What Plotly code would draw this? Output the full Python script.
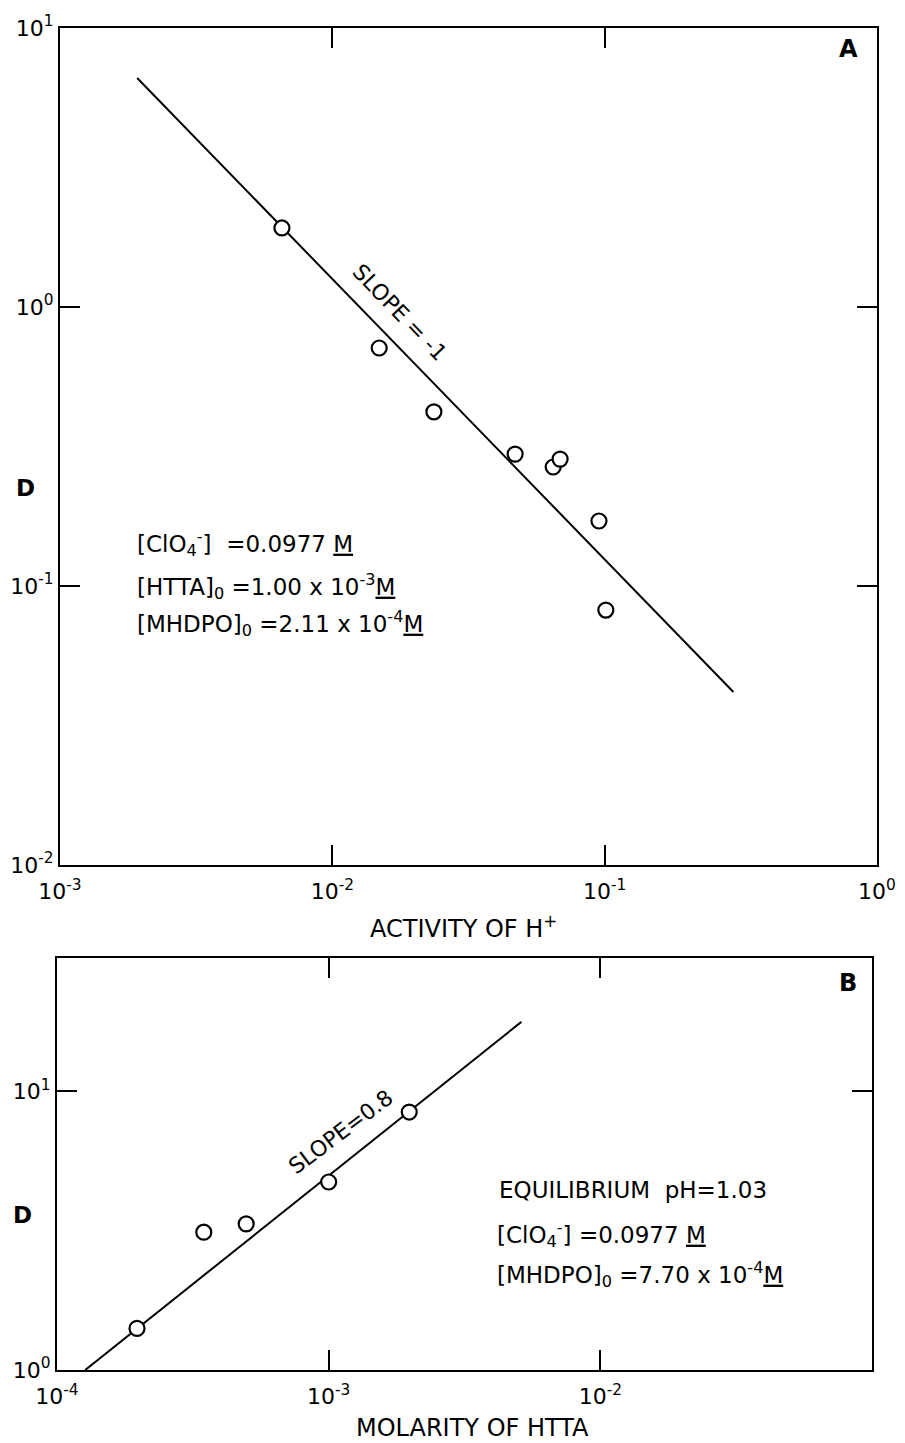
import plotly.graph_objects as go

# ---------------- data ----------------
# Panel A: D vs activity of H+
a_h = [0.00653, 0.01486, 0.0236, 0.0469, 0.0647, 0.0686, 0.0953, 0.101]
a_d = [1.92, 0.713, 0.421, 0.297, 0.267, 0.285, 0.171, 0.082]
a_fit_x = [0.00192, 0.297]
a_fit_d = [6.62, 0.0417]
a_ticks = [1e-3, 1e-2, 1e-1, 1e0]
a_ticktext_x = ["10<sup>-3</sup>", "10<sup>-2</sup>", "10<sup>-1</sup>", "10<sup>0</sup>"]
a_yticks = [1e-2, 1e-1, 1e0, 1e1]
a_ticktext_y = ["10<sup>-2</sup>", "10<sup>-1</sup>", "10<sup>0</sup>", "10<sup>1</sup>"]

# Panel B: D vs molarity of HTTA
b_htta = [1.97e-4, 3.47e-4, 4.97e-4, 1.0e-3, 1.98e-3]
b_d = [1.41, 3.12, 3.34, 4.72, 8.41]
b_fit_x = [1.27e-4, 5.12e-3]
b_fit_d = [1.0, 17.7]
b_xticks = [1e-4, 1e-3, 1e-2]
b_ticktext_x = ["10<sup>-4</sup>", "10<sup>-3</sup>", "10<sup>-2</sup>"]
b_yticks = [1e0, 1e1]
b_ticktext_y = ["10<sup>0</sup>", "10<sup>1</sup>"]

FONT = "DejaVu Sans"
W, H = 905, 1443

def px(x):
    return x / W

def py(y):
    return 1 - y / H

fig = go.Figure()

marker = dict(symbol="circle", size=15, color="white", line=dict(color="black", width=2.2))
line = dict(color="black", width=2)

fig.add_trace(go.Scatter(x=a_fit_x, y=a_fit_d, mode="lines", line=line,
                         xaxis="x", yaxis="y", showlegend=False))
fig.add_trace(go.Scatter(x=a_h, y=a_d, mode="markers", marker=marker,
                         xaxis="x", yaxis="y", showlegend=False))
fig.add_trace(go.Scatter(x=b_fit_x, y=b_fit_d, mode="lines", line=line,
                         xaxis="x2", yaxis="y2", showlegend=False))
fig.add_trace(go.Scatter(x=b_htta, y=b_d, mode="markers", marker=marker,
                         xaxis="x2", yaxis="y2", showlegend=False))

axis_common = dict(type="log", showgrid=False, zeroline=False, showline=True,
                   linecolor="black", linewidth=2, mirror="ticks", ticks="inside",
                   ticklen=20, tickwidth=2, tickcolor="black", automargin=False,
                   tickfont=dict(family=FONT, size=22, color="black"))

fig.update_layout(
    width=W, height=H,
    margin=dict(l=0, r=0, t=0, b=0, pad=0, autoexpand=False),
    paper_bgcolor="white", plot_bgcolor="white",
    showlegend=False,
    font=dict(family=FONT, color="black"),
    xaxis=dict(axis_common, domain=[px(60), px(877)], range=[-3, 0], anchor="y",
               tickvals=a_ticks, ticktext=a_ticktext_x, ticklabelstandoff=6),
    yaxis=dict(axis_common, domain=[py(865), py(28)], range=[-2, 1], anchor="x",
               tickvals=a_yticks, ticktext=a_ticktext_y),
    xaxis2=dict(axis_common, domain=[px(57), px(872)], range=[-4, -1], anchor="y2",
                tickvals=b_xticks, ticktext=b_ticktext_x, ticklabelstandoff=6),
    yaxis2=dict(axis_common, domain=[py(1370), py(958)], range=[0, 1.477], anchor="x2",
                tickvals=b_yticks, ticktext=b_ticktext_y),
)

def ann(text, x, y, size=23, xanchor="center", angle=0):
    fig.add_annotation(text=text, x=px(x), y=py(y), xref="paper", yref="paper",
                       showarrow=False, xanchor=xanchor, yanchor="middle",
                       textangle=angle, font=dict(family=FONT, size=size, color="black"))

# Panel labels
ann("<b>A</b>", 848, 49, size=24)
ann("<b>B</b>", 848, 983, size=24)
# y titles
ann("<b>D</b>", 25, 488, size=23)
ann("<b>D</b>", 22, 1215, size=23)
# x titles
ann("ACTIVITY OF H<sup>+</sup>", 463, 927, size=24)
ann("MOLARITY OF HTTA", 472, 1428, size=24)
# slope labels
ann("SLOPE = -1", 400, 312, size=22, angle=46)
ann("SLOPE=0.8", 340, 1132, size=22, angle=-37)
# condition text, panel A
ann("[ClO<sub>4</sub><sup>-</sup>]  =0.0977 <u>M</u>", 135, 543, xanchor="left")
ann("[HTTA]<sub>0</sub> =1.00 x 10<sup>-3</sup><u>M</u>", 135, 586, xanchor="left")
ann("[MHDPO]<sub>0</sub> =2.11 x 10<sup>-4</sup><u>M</u>", 135, 623, xanchor="left")
# condition text, panel B
ann("EQUILIBRIUM  pH=1.03", 497, 1190, xanchor="left")
ann("[ClO<sub>4</sub><sup>-</sup>] =0.0977 <u>M</u>", 495, 1234, xanchor="left")
ann("[MHDPO]<sub>0</sub> =7.70 x 10<sup>-4</sup><u>M</u>", 495, 1274, xanchor="left")

fig.write_html("out.html")
